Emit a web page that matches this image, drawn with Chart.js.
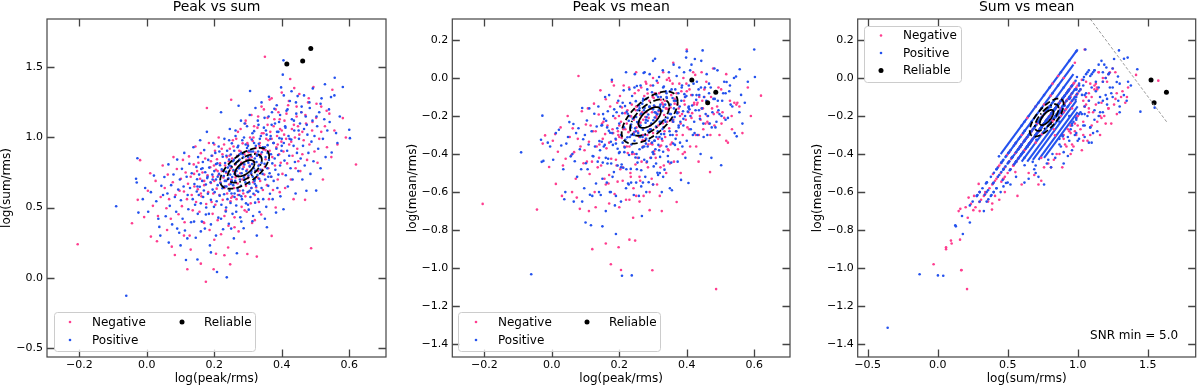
<!DOCTYPE html>
<html>
<head>
<meta charset="utf-8">
<title>Peak / sum / mean</title>
<script src="https://cdn.jsdelivr.net/npm/chart.js@4.4.1/dist/chart.umd.min.js"></script>
<style>
  html, body { margin: 0; padding: 0; background: #fff; }
  #wrap { position: relative; width: 1200px; height: 387px; }
  #wrap canvas { position: absolute; top: 0; }
</style>
</head>
<body>
<div id="wrap">
  <canvas id="c1" width="400" height="387" style="left:0px"></canvas>
  <canvas id="c2" width="400" height="387" style="left:400px"></canvas>
  <canvas id="c3" width="400" height="387" style="left:800px"></canvas>
</div>
<script>
// each source: [log(peak/rms), log(sum/rms), log(mean/rms)]
const positive = [
  [-0.091,0.509,-0.391],[-0.061,-0.129,-1.032],[-0.028,0.852,-0.198],[-0.032,0.705,-0.325],[-0.030,0.679,-0.441],[-0.025,0.464,-0.436],
  [-0.012,0.560,-0.340],[-0.005,0.640,-0.360],[-0.40,-0.357,-1.313],
  [0.004,0.470,-0.430],[0.012,0.610,-0.290],[0.021,0.728,-0.272],[0.028,0.545,-0.355],[0.034,0.420,-0.480],[0.037,0.362,-0.638],
  [0.043,0.655,-0.345],[0.048,0.590,-0.310],
  [0.052,0.718,-0.232],[0.056,0.438,-0.412],[0.061,0.600,-0.400],[0.064,0.808,-0.242],[0.068,0.512,-0.438],[0.072,0.660,-0.290],
  [0.075,0.380,-0.520],[0.079,0.736,-0.264],[0.083,0.575,-0.375],[0.087,0.470,-0.480],[0.090,0.842,-0.158],[0.093,0.628,-0.322],
  [0.096,0.320,-0.580],[0.098,0.700,-0.300],
  [0.101,0.552,-0.448],[0.104,0.776,-0.224],[0.106,0.420,-0.480],[0.109,0.650,-0.350],[0.111,0.890,-0.160],[0.113,0.336,-0.614],
  [0.116,0.126,-0.774],[0.118,0.720,-0.280],[0.121,0.590,-0.410],[0.123,0.488,-0.412],[0.126,0.812,-0.188],[0.128,0.640,-0.360],
  [0.131,0.395,-0.555],[0.133,0.745,-0.255],[0.136,0.560,-0.440],[0.138,0.930,-0.150],[0.141,0.668,-0.332],[0.143,0.520,-0.380],
  [0.145,0.285,-0.615],[0.147,0.790,-0.250],[0.148,0.615,-0.335],[0.149,0.702,-0.248],
  [0.151,0.455,-0.445],[0.152,0.860,-0.190],[0.154,0.590,-0.360],[0.155,0.735,-0.215],[0.157,0.648,-0.352],[0.158,0.980,-0.100],
  [0.160,0.530,-0.420],[0.161,0.775,-0.225],[0.163,0.400,-0.550],[0.164,0.690,-0.260],[0.166,0.825,-0.175],[0.167,0.575,-0.425],
  [0.169,0.622,-0.278],[0.170,0.910,-0.090],[0.172,0.350,-0.600],[0.173,0.752,-0.288],[0.175,0.665,-0.335],[0.176,0.500,-0.450],
  [0.178,1.040,-0.010],[0.179,0.710,-0.290],[0.181,0.598,-0.352],[0.182,0.840,-0.200],[0.184,0.455,-0.495],[0.185,0.785,-0.165],
  [0.187,0.230,-0.670],[0.189,0.680,-0.320],[0.190,0.555,-0.345],[0.192,0.870,-0.180],[0.194,0.735,-0.265],[0.195,0.628,-0.372],
  [0.197,0.960,-0.120],[0.199,0.505,-0.395],
  [0.200,0.760,-0.240],[0.201,0.610,-0.390],[0.203,0.890,-0.150],[0.205,0.700,-0.300],[0.207,0.545,-0.455],[0.208,0.040,-1.040],
  [0.209,0.815,-0.185],[0.210,0.660,-0.340],[0.212,0.428,-0.472],[0.213,0.935,-0.065],[0.214,0.740,-0.260],[0.216,0.585,-0.365],
  [0.217,0.802,-0.148],[0.218,0.675,-0.325],[0.220,1.180,0.030],[0.221,0.520,-0.480],[0.222,0.772,-0.178],[0.224,0.638,-0.312],
  [0.225,0.862,-0.188],[0.226,0.345,-0.555],[0.228,0.725,-0.225],[0.229,0.595,-0.405],[0.230,0.990,-0.060],[0.231,0.690,-0.310],
  [0.232,0.818,-0.132],[0.234,0.472,-0.478],[0.235,0.755,-0.245],[0.236,0.650,-0.300],[0.237,0.002,-1.038],[0.238,0.905,-0.095],
  [0.239,0.560,-0.390],[0.240,0.785,-0.215],[0.242,0.708,-0.292],[0.243,0.385,-0.615],[0.244,0.842,-0.208],[0.245,0.620,-0.330],
  [0.246,1.060,0.020],[0.247,0.735,-0.265],[0.248,0.532,-0.418],[0.249,0.878,-0.122],[0.249,0.670,-0.280],
  [0.250,0.795,-0.205],[0.251,0.600,-0.400],[0.252,0.958,-0.042],[0.253,0.718,-0.232],[0.254,0.455,-0.445],[0.255,0.830,-0.170],
  [0.256,0.660,-0.290],[0.257,0.768,-0.232],[0.258,0.280,-0.620],[0.259,0.905,-0.145],[0.260,0.575,-0.375],[0.261,0.742,-0.258],
  [0.262,0.690,-0.310],[0.263,1.010,-0.040],[0.264,0.812,-0.188],[0.265,0.515,-0.485],[0.266,0.760,-0.190],[0.267,0.174,-0.726],
  [0.268,0.865,-0.135],[0.269,0.635,-0.365],[0.270,0.728,-0.272],[0.271,0.940,-0.110],[0.272,1.226,0.026],[0.273,0.780,-0.170],
  [0.274,0.590,-0.360],[0.275,0.842,-0.158],[0.276,0.700,-0.300],[0.277,0.430,-0.520],[0.278,0.805,-0.235],[0.279,0.655,-0.345],
  [0.280,0.890,-0.110],[0.281,0.745,-0.205],[0.282,0.560,-0.440],[0.283,0.980,-0.060],[0.284,0.775,-0.225],[0.285,0.622,-0.278],
  [0.286,0.858,-0.192],[0.287,0.352,-0.548],[0.288,0.715,-0.285],[0.289,0.808,-0.152],[0.290,1.100,0.020],[0.292,0.680,-0.270],
  [0.294,0.530,-0.420],[0.295,0.760,-0.240],[0.297,0.925,-0.075],[0.299,0.610,-0.390],
  [0.300,0.835,-0.165],[0.301,0.728,-0.222],[0.302,0.485,-0.465],[0.303,0.905,-0.145],[0.304,0.670,-0.330],[0.305,0.792,-0.208],
  [0.306,1.331,0.101],[0.307,0.575,-0.375],[0.308,0.868,-0.182],[0.309,0.745,-0.255],[0.310,0.640,-0.310],[0.311,0.985,-0.015],
  [0.312,0.810,-0.190],[0.313,0.402,-0.498],[0.314,0.720,-0.280],[0.315,0.900,-0.100],[0.316,0.598,-0.352],[0.317,0.780,-0.170],
  [0.318,1.045,0.005],[0.319,0.690,-0.310],[0.320,0.850,-0.150],[0.321,0.535,-0.415],[0.322,0.762,-0.238],[0.323,0.940,-0.100],
  [0.324,0.655,-0.295],[0.325,0.825,-0.175],[0.326,0.300,-0.600],[0.327,0.878,-0.172],[0.328,0.732,-0.268],[0.329,1.120,0.040],
  [0.330,0.612,-0.388],[0.331,0.798,-0.152],[0.332,0.955,-0.045],[0.333,0.705,-0.295],[0.334,0.468,-0.482],[0.336,0.860,-0.140],
  [0.337,0.770,-0.230],[0.338,1.010,-0.070],[0.340,0.640,-0.360],[0.341,0.895,-0.105],[0.343,0.740,-0.210],[0.345,0.560,-0.440],
  [0.347,1.070,0.030],[0.349,0.812,-0.188],
  [0.350,0.930,-0.070],[0.351,0.700,-0.300],[0.352,0.860,-0.140],[0.354,0.505,-0.445],[0.355,1.020,-0.060],[0.356,0.360,-0.590],
  [0.357,0.780,-0.220],[0.358,0.945,-0.105],[0.360,0.655,-0.345],[0.361,1.150,0.070],[0.362,0.840,-0.160],[0.364,0.745,-0.205],
  [0.365,0.598,-0.352],[0.366,0.990,-0.060],[0.368,0.880,-0.120],[0.369,0.720,-0.280],[0.370,1.090,0.010],[0.372,0.815,-0.185],
  [0.373,0.560,-0.440],[0.375,0.960,-0.080],[0.376,0.690,-0.260],[0.378,1.205,0.055],[0.379,0.850,-0.150],[0.381,0.770,-0.230],
  [0.383,0.464,-0.536],[0.384,0.920,-0.120],[0.386,1.040,-0.040],[0.387,0.640,-0.360],[0.389,0.875,-0.175],[0.390,0.735,-0.215],
  [0.392,1.110,0.030],[0.393,0.995,-0.085],[0.395,0.800,-0.200],[0.396,0.580,-0.420],[0.398,1.357,0.107],[0.399,0.905,-0.095],
  [0.403,1.448,-0.177],[0.405,1.550,-0.156],[0.405,0.488,-0.552],[0.406,0.960,-0.040],[0.408,0.835,-0.165],[0.410,1.080,0.040],
  [0.412,0.730,-0.270],[0.414,1.190,0.070],[0.416,0.905,-0.145],[0.418,0.650,-0.300],[0.420,1.010,-0.030],[0.422,0.870,-0.230],
  [0.424,1.260,0.100],[0.426,0.780,-0.170],[0.428,0.985,-0.115],[0.430,1.130,-0.020],[0.432,0.700,-0.300],[0.435,0.940,-0.060],
  [0.437,1.050,-0.090],[0.439,0.825,-0.215],[0.441,0.600,-0.400],[0.443,1.170,0.090],[0.445,0.890,-0.160],[0.447,1.295,0.145],
  [0.449,0.760,-0.240],
  [0.451,0.990,-0.100],[0.454,1.100,-0.050],[0.456,0.850,-0.190],[0.459,1.220,0.020],[0.461,0.700,-0.300],[0.463,0.940,-0.200],
  [0.466,1.060,-0.080],[0.468,0.800,-0.240],[0.471,1.150,-0.050],[0.473,0.620,-0.420],[0.476,1.020,-0.180],[0.479,0.890,-0.110],
  [0.482,1.250,0.050],[0.485,0.740,-0.260],[0.488,0.970,-0.230],[0.491,1.120,0.040],[0.494,0.830,-0.170],[0.497,1.010,-0.190],
  [0.502,0.621,-0.459],[0.505,1.080,-0.120],[0.508,0.920,-0.080],[0.511,1.180,-0.020],[0.515,0.780,-0.220],[0.518,1.279,-0.021],
  [0.522,0.990,-0.210],[0.526,1.130,-0.070],[0.530,0.860,-0.140],[0.535,1.050,-0.150],[0.540,1.200,0.000],[0.546,1.288,0.008],
  [0.548,0.893,-0.307],[0.557,1.426,0.046],[0.561,1.031,-0.089],[0.565,0.960,-0.240],[0.572,1.150,-0.130],[0.581,1.360,-0.020],
  [0.600,1.055,0.150],[0.602,0.995,0.005],
  // sources spread below the constant-npix runs
  [0.180,0.720,-0.520],[0.205,0.810,-0.470],[0.215,0.900,-0.390],[0.228,0.760,-0.560],[0.236,0.870,-0.350],[0.244,0.980,-0.300],
  [0.252,0.690,-0.480],[0.258,0.840,-0.420],[0.263,1.050,-0.250],[0.269,0.930,-0.310],[0.274,0.790,-0.430],[0.279,1.120,-0.220],
  [0.284,0.880,-0.360],[0.288,1.000,-0.330],[0.293,0.950,-0.270],[0.297,1.080,-0.340],[0.301,0.820,-0.400],[0.305,1.160,-0.180],
  [0.309,0.900,-0.450],[0.313,1.030,-0.190],[0.318,0.960,-0.380],[0.322,1.210,-0.140],[0.326,0.870,-0.320],[0.331,1.090,-0.260],
  [0.335,0.990,-0.220],[0.340,1.250,-0.100],[0.344,0.930,-0.410],[0.349,1.140,-0.280],[0.353,1.050,-0.190],[0.358,0.890,-0.300],
  [0.362,1.290,-0.120],[0.367,1.010,-0.320],[0.371,1.180,-0.180],[0.376,0.960,-0.250],[0.380,1.100,-0.340],[0.385,1.230,-0.050],
  [0.390,1.040,-0.250],[0.395,1.160,-0.100],[0.400,0.940,-0.330],[0.406,1.300,-0.150],[0.411,1.070,-0.200],[0.417,1.200,-0.090],
  [0.423,0.990,-0.290],[0.429,1.330,-0.090],[0.436,1.120,-0.170],[0.442,1.250,-0.050],[0.450,1.050,-0.310],[0.458,1.180,-0.120],
  [0.466,1.300,-0.030],[0.474,1.090,-0.260],[0.483,1.210,-0.110],[0.492,1.350,-0.120],[0.503,1.150,-0.200],[0.515,1.240,-0.080],
  [0.528,1.380,-0.040],[0.542,1.110,-0.290],[0.556,1.300,-0.180],[0.150,0.650,-0.530],[0.165,0.780,-0.450],[0.195,0.700,-0.460],
  [0.270,0.620,-0.550],[0.320,0.700,-0.500],
  [0.040,0.300,-0.600],[0.065,0.250,-0.650],[0.090,0.350,-0.650],[0.120,0.280,-0.620],[0.140,0.400,-0.600],[0.160,0.330,-0.700],
  [0.175,0.450,-0.600],[0.190,0.380,-0.620],[0.205,0.300,-0.650],[0.220,0.420,-0.580],[0.235,0.500,-0.550],[0.250,0.350,-0.550],
  [0.265,0.470,-0.570],[0.280,0.400,-0.600],[0.300,0.520,-0.560],[0.315,0.440,-0.510],[0.330,0.560,-0.520],[0.350,0.420,-0.580],
  [0.190,0.180,-0.820],[0.150,0.130,-0.780],[0.100,0.230,-0.760],
  [0.210,0.720,-0.130],[0.230,0.650,-0.200],[0.245,0.800,-0.050],[0.260,0.600,-0.250],[0.275,0.880,0.030],[0.290,0.700,-0.150],
  [0.300,0.940,0.090],[0.310,0.760,-0.090],[0.325,0.620,-0.230],[0.400,0.990,0.140],[0.260,0.740,-0.160],[0.280,0.580,-0.320],
  [0.300,0.860,-0.040],[0.320,0.670,-0.230],[0.340,0.820,-0.080],[0.235,0.690,-0.260],[0.270,0.830,-0.120],[0.305,0.620,-0.330],
  [0.330,0.900,-0.050],[0.360,0.720,-0.230]
];

const negative = [
  [-0.205,0.238,-0.662],[-0.044,0.388,-0.692],[-0.020,0.838,-0.302],[-0.027,0.555,-0.345],[-0.008,0.432,-0.468],[0.010,0.745,-0.295],
  [0.012,0.293,-0.557],[0.003,0.620,-0.330],[0.018,0.512,-0.388],[0.026,0.690,-0.260],[0.033,0.440,-0.460],[0.041,0.575,-0.425],
  [0.047,0.800,-0.200],[0.074,0.221,-0.629],[0.083,0.162,-0.688],[0.079,0.860,0.010],
  [0.053,0.640,-0.310],[0.058,0.495,-0.405],[0.062,0.735,-0.265],[0.066,0.560,-0.390],[0.071,0.420,-0.530],[0.077,0.680,-0.320],
  [0.085,0.590,-0.360],[0.089,0.775,-0.175],[0.094,0.452,-0.448],[0.097,0.620,-0.380],
  [0.101,0.705,-0.245],[0.104,0.510,-0.440],[0.107,0.840,-0.160],[0.110,0.615,-0.335],[0.112,0.395,-0.505],[0.115,0.750,-0.250],
  [0.119,0.560,-0.440],[0.122,0.670,-0.280],[0.125,0.865,-0.135],[0.127,0.300,-0.600],[0.130,0.720,-0.280],[0.133,0.590,-0.360],
  [0.136,0.480,-0.470],[0.139,0.808,-0.192],[0.141,0.650,-0.350],[0.144,0.935,-0.065],[0.146,0.540,-0.460],[0.149,0.760,-0.240],
  [0.151,0.630,-0.320],[0.153,0.820,-0.230],[0.156,0.470,-0.530],[0.158,0.705,-0.295],[0.160,0.888,-0.112],[0.162,0.580,-0.370],
  [0.165,0.750,-0.250],[0.168,0.395,-0.555],[0.170,0.660,-0.340],[0.173,0.850,-0.150],[0.175,-0.029,-0.979],[0.178,1.210,-0.020],
  [0.176,0.525,-0.425],[0.180,0.730,-0.270],[0.182,0.610,-0.290],[0.184,0.960,-0.040],[0.186,0.340,-0.610],[0.188,0.788,-0.212],
  [0.190,0.675,-0.325],[0.192,0.540,-0.460],[0.194,0.870,-0.130],[0.195,0.455,-0.545],[0.196,0.720,-0.280],[0.198,0.060,-0.890],
  [0.199,0.800,-0.200],[0.197,0.600,-0.300],
  [0.200,0.690,-0.310],[0.202,0.905,-0.095],[0.203,0.520,-0.480],[0.205,0.770,-0.230],[0.207,0.635,-0.315],[0.208,0.845,-0.155],
  [0.210,0.410,-0.540],[0.212,0.730,-0.270],[0.213,1.000,-0.040],[0.215,0.590,-0.360],[0.217,0.815,-0.185],[0.218,0.680,-0.270],
  [0.220,0.310,-0.640],[0.222,0.760,-0.240],[0.224,0.880,-0.170],[0.225,0.555,-0.395],[0.227,0.715,-0.285],[0.229,0.950,-0.050],
  [0.230,0.640,-0.360],[0.232,0.800,-0.200],[0.234,0.480,-0.520],[0.235,0.748,-0.202],[0.237,0.860,-0.140],[0.238,0.600,-0.400],
  [0.240,0.702,-0.298],[0.241,0.215,-0.735],[0.243,0.830,-0.220],[0.244,0.665,-0.285],[0.246,0.920,-0.080],[0.247,0.095,-0.855],
  [0.248,0.545,-0.455],[0.249,0.780,-0.170],[0.250,1.269,0.030],[0.242,0.370,-0.580],
  [0.251,0.690,-0.260],[0.253,0.850,-0.150],[0.254,0.580,-0.420],[0.256,0.760,-0.240],[0.257,0.935,-0.065],[0.259,0.640,-0.310],
  [0.260,0.430,-0.520],[0.262,0.805,-0.195],[0.263,0.715,-0.235],[0.265,0.990,-0.050],[0.266,0.560,-0.440],[0.268,0.870,-0.180],
  [0.269,0.672,-0.328],[0.271,0.780,-0.220],[0.272,0.330,-0.620],[0.274,0.905,-0.095],[0.275,0.620,-0.330],[0.277,0.745,-0.205],
  [0.278,1.060,-0.020],[0.280,0.820,-0.180],[0.281,0.505,-0.445],[0.283,0.700,-0.300],[0.284,0.958,-0.082],[0.286,0.600,-0.350],
  [0.287,0.790,-0.210],[0.289,0.880,-0.120],[0.290,0.255,-0.695],[0.291,0.730,-0.270],[0.293,1.120,-0.040],[0.294,0.655,-0.345],
  [0.295,0.840,-0.160],[0.296,0.470,-0.530],[0.298,0.169,-1.011],[0.297,0.770,-0.180],[0.299,0.950,-0.100],[0.292,0.580,-0.420],
  [0.300,0.710,-0.290],[0.302,0.895,-0.105],[0.303,0.615,-0.385],[0.305,0.800,-0.150],[0.306,1.000,-0.080],[0.308,0.530,-0.420],
  [0.309,0.740,-0.260],[0.311,0.860,-0.190],[0.312,0.390,-0.560],[0.314,0.975,-0.025],[0.315,0.680,-0.320],[0.317,0.825,-0.175],
  [0.318,1.080,-0.080],[0.320,0.590,-0.360],[0.321,0.760,-0.240],[0.323,0.925,-0.115],[0.324,0.645,-0.355],[0.326,0.150,-0.700],
  [0.327,0.870,-0.130],[0.329,0.712,-0.238],[0.330,1.150,0.030],[0.332,0.540,-0.460],[0.333,0.805,-0.195],[0.335,0.960,-0.120],
  [0.336,0.690,-0.310],[0.338,0.880,-0.160],[0.339,0.450,-0.500],[0.341,1.030,-0.010],[0.342,0.770,-0.230],[0.344,0.625,-0.375],
  [0.345,0.915,-0.165],[0.347,1.200,0.000],[0.348,0.735,-0.265],[0.350,1.576,-0.014],
  [0.352,0.845,-0.155],[0.354,0.990,-0.090],[0.356,0.660,-0.340],[0.358,1.090,-0.030],[0.360,0.780,-0.220],[0.362,0.560,-0.440],
  [0.364,0.905,-0.135],[0.366,1.040,-0.120],[0.368,0.720,-0.280],[0.370,1.279,-0.080],[0.370,0.298,-0.652],[0.372,0.860,-0.140],
  [0.374,0.625,-0.375],[0.376,0.960,-0.160],[0.378,1.130,-0.030],[0.380,0.800,-0.200],[0.382,0.500,-0.500],[0.384,0.930,-0.070],
  [0.386,1.010,-0.190],[0.388,0.700,-0.300],[0.390,1.180,0.000],[0.392,0.880,-0.120],[0.394,0.610,-0.390],[0.395,1.060,-0.100],
  [0.397,0.820,-0.220],[0.399,0.970,-0.030],[0.400,1.050,0.150],
  [0.402,0.740,-0.260],[0.405,0.900,-0.180],[0.408,1.120,-0.060],[0.410,0.640,-0.360],[0.413,0.990,-0.090],[0.416,0.815,-0.185],
  [0.419,1.230,0.030],[0.422,0.950,-0.130],[0.425,1.417,0.016],[0.427,0.700,-0.300],[0.430,1.060,-0.140],[0.432,0.870,-0.130],
  [0.435,0.560,-0.440],[0.437,1.352,-0.100],[0.439,1.000,-0.200],[0.441,0.780,-0.220],[0.444,1.150,0.030],[0.446,0.920,-0.120],
  [0.448,1.080,-0.160],[0.449,0.830,-0.270],
  [0.452,1.020,-0.060],[0.455,0.760,-0.240],[0.458,1.180,-0.020],[0.461,0.880,-0.200],[0.465,0.980,-0.240],[0.469,0.555,-0.495],
  [0.472,1.100,-0.100],[0.475,0.840,-0.160],[0.478,1.250,0.050],[0.482,0.950,-0.250],[0.487,0.210,-1.110],[0.490,1.050,-0.150],
  [0.494,1.360,-0.050],[0.497,0.900,-0.300],
  [0.502,1.140,-0.060],[0.506,0.820,-0.180],[0.511,0.990,-0.210],[0.517,1.220,0.020],[0.522,0.700,-0.340],[0.528,1.080,-0.120],
  [0.534,0.930,-0.270],[0.541,1.170,-0.130],[0.547,0.860,-0.140],
  [0.556,1.050,-0.150],[0.565,0.950,-0.290],[0.581,1.138,-0.050],[0.590,1.000,-0.200],[0.620,0.807,-0.093],
  // sources spread below the constant-npix runs
  [0.170,0.690,-0.510],[0.190,0.830,-0.430],[0.210,0.760,-0.470],[0.222,0.920,-0.360],[0.233,0.650,-0.500],[0.245,0.870,-0.400],
  [0.255,0.980,-0.280],[0.262,0.740,-0.540],[0.270,1.040,-0.300],[0.278,0.900,-0.320],[0.285,0.810,-0.470],[0.292,1.100,-0.250],
  [0.298,0.960,-0.350],[0.304,0.850,-0.400],[0.310,1.160,-0.200],[0.316,1.000,-0.250],[0.322,0.890,-0.470],[0.328,1.070,-0.330],
  [0.334,0.940,-0.280],[0.340,1.220,-0.160],[0.346,1.030,-0.380],[0.352,0.910,-0.350],[0.358,1.140,-0.230],[0.364,1.270,-0.110],
  [0.370,0.990,-0.300],[0.376,1.080,-0.180],[0.382,1.200,-0.240],[0.388,0.950,-0.400],[0.394,1.130,-0.140],[0.400,1.320,-0.070],
  [0.407,1.020,-0.270],[0.414,1.170,-0.210],[0.421,1.260,-0.140],[0.428,0.970,-0.360],[0.436,1.090,-0.300],[0.444,1.220,-0.160],
  [0.452,1.310,-0.100],[0.461,1.040,-0.230],[0.470,1.160,-0.300],[0.480,1.280,-0.190],[0.491,1.110,-0.180],[0.503,1.240,-0.240],
  [0.517,1.040,-0.330],[0.533,1.190,-0.200],[0.550,1.340,-0.130],[0.140,0.740,-0.420],[0.160,0.600,-0.560],[0.200,0.950,-0.250],
  [0.250,0.570,-0.620],[0.300,0.720,-0.560],[0.350,0.790,-0.450],
  [0.030,0.260,-0.620],[0.060,0.340,-0.600],[0.110,0.300,-0.700],[0.130,0.200,-0.680],[0.170,0.390,-0.660],[0.200,0.270,-0.680],
  [0.230,0.440,-0.640],[0.260,0.360,-0.650],[0.290,0.480,-0.600],[0.320,0.410,-0.620],[0.160,0.100,-0.870],[0.230,0.160,-0.850],
  [0.120,0.060,-0.900],[0.205,0.170,-1.010],
  [0.250,0.700,-0.150],[0.280,0.820,-0.030],[0.310,0.640,-0.210],[0.300,0.900,0.000],[0.330,0.760,-0.140],[0.360,0.980,0.080],
  [0.270,0.590,-0.360]
];

const reliable = [[0.415,1.524,-0.011],[0.462,1.546,-0.130],[0.486,1.634,-0.075]];

// dense constant-npix runs in the sum-vs-mean panel, [sum, mean] at both ends
const stripeFrom = [[0.45,-0.40],[0.48,-0.42],[0.52,-0.43],[0.56,-0.44],[0.60,-0.44],[0.64,-0.44],[0.68,-0.43],[0.72,-0.43],[0.76,-0.42]];
const stripeTo   = [[1.00,0.15],[0.97,0.07],[0.97,0.02],[0.98,-0.02],[0.98,-0.06],[0.99,-0.09],[0.99,-0.12],[1.00,-0.15],[1.00,-0.18]];

// grey dashed guide in the third panel, [sum, mean]
const guideLine = [[1.09,0.31],[1.64,-0.235]];

// density contours: centre, spread, correlation per panel; levels outer -> inner
const contourCentre = [[0.290,0.780],[0.290,-0.208],[0.779,-0.208]];
const contourSpread = [[0.0726,0.146],[0.083,0.137],[0.121,0.100]];
const contourRho = [0.6,0.6,0.7];
const contourLevels = [1.0,0.7,0.4];

const peakTicks = [-0.2,0.0,0.2,0.4,0.6];
const sumTicks = [-0.5,0.0,0.5,1.0,1.5];
const meanTicks = [0.2,0.0,-0.2,-0.4,-0.6,-0.8,-1.0,-1.2,-1.4];

const FONT = "'DejaVu Sans', sans-serif";
const PINK = '#ff3d8f';
const BLUE = '#2452ee';
const contourDash = [[6,3],[7,2.5,1.5,2.5],[]];

function fmt(v) {
    return (v < 0 ? '\u2212' : '') + Math.abs(v).toFixed(1);
}

function pts(rows, ix, iy) {
    return rows.map(r => ({x: r[ix], y: r[iy]}));
}

const decor = {
    id: 'decor',
    afterDraw(chart, args, o) {
        const ctx = chart.ctx;
        const a = chart.chartArea;
        const sx = chart.scales.x, sy = chart.scales.y;

        // contours
        ctx.save();
        ctx.beginPath();
        ctx.rect(a.left, a.top, a.right - a.left, a.bottom - a.top);
        ctx.clip();
        const c = contourCentre[o.panel], s = contourSpread[o.panel], rho = contourRho[o.panel];
        contourLevels.forEach((k, i) => {
            ctx.beginPath();
            for (let j = 0; j <= 120; j++) {
                const t = j / 120 * 2 * Math.PI;
                const x = c[0] + k * s[0] * Math.cos(t);
                const y = c[1] + k * s[1] * (rho * Math.cos(t) + Math.sqrt(1 - rho * rho) * Math.sin(t));
                const px = sx.getPixelForValue(x), py = sy.getPixelForValue(y);
                if (j === 0) ctx.moveTo(px, py); else ctx.lineTo(px, py);
            }
            ctx.setLineDash(contourDash[i]);
            ctx.lineWidth = 1.8;
            ctx.strokeStyle = '#000';
            ctx.stroke();
        });
        ctx.restore();

        // frame and inward ticks on all four sides
        ctx.save();
        ctx.strokeStyle = '#444';
        ctx.lineWidth = 1.2;
        ctx.strokeRect(a.left, a.top, a.right - a.left, a.bottom - a.top);
        ctx.lineWidth = 1.3;
        ctx.beginPath();
        sx.ticks.forEach(t => {
            const p = Math.round(sx.getPixelForValue(t.value)) + 0.5;
            ctx.moveTo(p, a.bottom); ctx.lineTo(p, a.bottom - 7.5);
            ctx.moveTo(p, a.top); ctx.lineTo(p, a.top + 7.5);
        });
        sy.ticks.forEach(t => {
            const p = Math.round(sy.getPixelForValue(t.value)) + 0.5;
            ctx.moveTo(a.left, p); ctx.lineTo(a.left + 7.5, p);
            ctx.moveTo(a.right, p); ctx.lineTo(a.right - 7.5, p);
        });
        ctx.stroke();

        // title
        ctx.fillStyle = '#000';
        ctx.font = '14px ' + FONT;
        ctx.textAlign = 'center';
        ctx.textBaseline = 'middle';
        ctx.fillText(o.title, (a.left + a.right) / 2, 7);

        // legend
        const L = o.legend;
        ctx.fillStyle = 'rgba(255,255,255,0.8)';
        ctx.strokeStyle = '#cccccc';
        ctx.lineWidth = 1;
        ctx.beginPath();
        ctx.roundRect(L.box[0] + 0.5, L.box[1] + 0.5, L.box[2], L.box[3], 3);
        ctx.fill();
        ctx.stroke();
        ctx.font = '12px ' + FONT;
        ctx.textAlign = 'left';
        L.items.forEach(it => {
            ctx.fillStyle = it.color;
            ctx.beginPath();
            ctx.arc(it.x, it.y, it.r, 0, 2 * Math.PI);
            ctx.fill();
            ctx.fillStyle = '#000';
            ctx.fillText(it.label, it.x + 22, it.y + 0.5);
        });

        if (o.note) {
            ctx.textAlign = 'right';
            ctx.fillText(o.note, a.right - 17.5, 336);
        }
        ctx.restore();
    }
};

function legendItems(rows) {
    // rows: [label, colour, radius, x, y]
    return rows.map(r => ({label: r[0], color: r[1], r: r[2], x: r[3], y: r[4]}));
}

const panels = [
    {
        id: 'c1', title: 'Peak vs sum', xi: 0, yi: 1,
        xMin: -0.296, xMax: 0.709, yMin: -0.566, yMax: 1.845,
        xTicks: peakTicks, yTicks: sumTicks,
        xTitle: 'log(peak/rms)', yTitle: 'log(sum/rms)',
        padLeft: 0, padRight: 14,
        legend: {box: [54, 312, 201, 39], items: legendItems([
            ['Negative', PINK, 1.3, 70, 322], ['Positive', BLUE, 1.3, 70, 340], ['Reliable', '#000', 2.5, 182, 322]])}
    },
    {
        id: 'c2', title: 'Peak vs mean', xi: 0, yi: 2,
        xMin: -0.295, xMax: 0.706, yMin: -1.467, yMax: 0.31,
        xTicks: peakTicks, yTicks: meanTicks,
        xTitle: 'log(peak/rms)', yTitle: 'log(mean/rms)',
        padLeft: 5.3, padRight: 10,
        legend: {box: [58, 312, 202, 39], items: legendItems([
            ['Negative', PINK, 1.3, 76, 322], ['Positive', BLUE, 1.3, 76, 340], ['Reliable', '#000', 2.5, 187, 322]])}
    },
    {
        id: 'c3', title: 'Sum vs mean', xi: 1, yi: 2,
        xMin: -0.571, xMax: 1.843, yMin: -1.467, yMax: 0.31,
        xTicks: sumTicks, yTicks: meanTicks,
        xTitle: 'log(sum/rms)', yTitle: 'log(mean/rms)',
        padLeft: 10.7, padRight: 4.3,
        stripes: true, note: 'SNR min = 5.0',
        legend: {box: [64, 26, 97, 56], items: legendItems([
            ['Negative', PINK, 1.3, 81, 35.5], ['Positive', BLUE, 1.3, 81, 53], ['Reliable', '#000', 2.5, 81, 70.5]])}
    }
];

function axis(min, max, ticks, title, isX) {
    return {
        type: 'linear', min: min, max: max,
        afterBuildTicks: s => { s.ticks = ticks.map(v => ({value: v})); },
        afterFit: s => { if (isX) s.height = 30; else s.width = 47; },
        grid: {display: false, drawTicks: false},
        border: {display: false},
        ticks: {
            color: '#000', padding: isX ? 2 : 4,
            font: {family: FONT, size: 11},
            callback: v => fmt(v)
        },
        title: {
            display: true, text: title, color: '#000',
            font: {family: FONT, size: 12},
            padding: isX ? {top: 0, bottom: 1} : {top: 0, bottom: 0}
        }
    };
}

panels.forEach((p, n) => {
    const datasets = [];
    datasets.push({data: pts(reliable, p.xi, p.yi), backgroundColor: '#000', pointRadius: 2.5, borderWidth: 0, order: 1, clip: 0});
    datasets.push({data: pts(positive, p.xi, p.yi), backgroundColor: BLUE, pointRadius: 1.3, borderWidth: 0, order: 2, clip: 0});
    datasets.push({data: pts(negative, p.xi, p.yi), backgroundColor: PINK, pointRadius: 1.3, borderWidth: 0, order: 3, clip: 0});
    if (p.stripes) {
        stripeFrom.forEach((f, i) => {
            datasets.push({
                data: [{x: f[0], y: f[1]}, {x: stripeTo[i][0], y: stripeTo[i][1]}],
                showLine: true, borderColor: BLUE, borderWidth: 2.1, pointRadius: 0, order: 10, clip: 0
            });
        });
        datasets.push({
            data: guideLine.map(g => ({x: g[0], y: g[1]})),
            showLine: true, borderColor: '#999', borderWidth: 1, borderDash: [3, 2], pointRadius: 0, order: 0, clip: 0
        });
    }
    new Chart(document.getElementById(p.id), {
        type: 'scatter',
        data: {datasets: datasets},
        plugins: [decor],
        options: {
            responsive: false,
            animation: false,
            devicePixelRatio: 1,
            layout: {padding: {left: p.padLeft, right: p.padRight, top: 19, bottom: 0}},
            scales: {
                x: axis(p.xMin, p.xMax, p.xTicks, p.xTitle, true),
                y: axis(p.yMin, p.yMax, p.yTicks, p.yTitle, false)
            },
            plugins: {
                legend: {display: false},
                title: {display: false},
                tooltip: {enabled: false},
                decor: {panel: n, title: p.title, legend: p.legend, note: p.note}
            }
        }
    });
});
</script>
</body>
</html>
